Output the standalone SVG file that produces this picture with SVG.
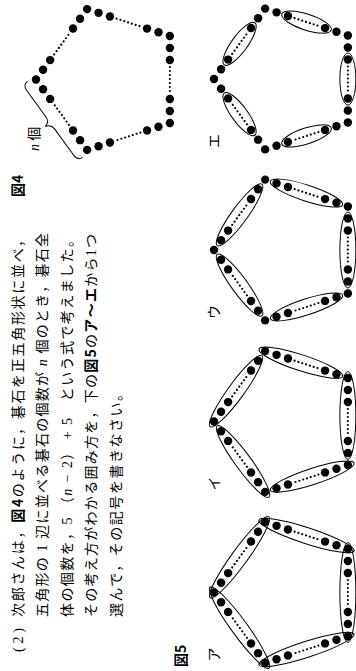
<svg xmlns="http://www.w3.org/2000/svg" xmlns:xlink="http://www.w3.org/1999/xlink" width="356" height="671" viewBox="0 0 356 671">
<style>
  text { font-family: "Noto Sans CJK JP", "Liberation Sans", sans-serif; font-size: 14px; fill: #000; }
  .lat { font-family: "Liberation Serif", "Noto Sans CJK JP", serif; }
  .it { font-family: "Liberation Serif", serif; font-style: italic; }
  .b { font-weight: bold; }
  .stone { fill: #000; }
  .dotted { fill: none; stroke: #000; stroke-width: 2.2; stroke-dasharray: 0 4; stroke-linecap: round; }
  .grp { fill: none; stroke: #000; stroke-width: 1; }
  .brace { fill: none; stroke: #000; stroke-width: 1; }
</style>
<defs>
  <g id="stones">
    <g class="stone">
      <circle cx="0" cy="-74" r="4.2"/>
      <circle cx="9.71" cy="-66.95" r="4.2"/>
      <circle cx="19.42" cy="-59.89" r="4.2"/>
      <circle cx="50.97" cy="-36.97" r="4.2"/>
      <circle cx="60.68" cy="-29.92" r="4.2"/>
      <circle cx="70.38" cy="-22.87" r="4.2"/>
      <circle cx="66.67" cy="-11.46" r="4.2"/>
      <circle cx="62.96" cy="-0.04" r="4.2"/>
      <circle cx="50.91" cy="37.05" r="4.2"/>
      <circle cx="47.2" cy="48.47" r="4.2"/>
      <circle cx="43.5" cy="59.87" r="4.2"/>
      <circle cx="31.5" cy="59.87" r="4.2"/>
      <circle cx="19.5" cy="59.87" r="4.2"/>
      <circle cx="-19.5" cy="59.87" r="4.2"/>
      <circle cx="-31.5" cy="59.87" r="4.2"/>
      <circle cx="-43.5" cy="59.87" r="4.2"/>
      <circle cx="-47.21" cy="48.46" r="4.2"/>
      <circle cx="-50.92" cy="37.04" r="4.2"/>
      <circle cx="-62.97" cy="-0.05" r="4.2"/>
      <circle cx="-66.68" cy="-11.47" r="4.2"/>
      <circle cx="-70.38" cy="-22.87" r="4.2"/>
      <circle cx="-60.67" cy="-29.92" r="4.2"/>
      <circle cx="-50.96" cy="-36.98" r="4.2"/>
      <circle cx="-19.41" cy="-59.9" r="4.2"/>
      <circle cx="-9.7" cy="-66.95" r="4.2"/>
    </g>
    <g class="dotted">
      <line x1="25.08" y1="-55.78" x2="45.31" y2="-41.09"/>
      <line x1="60.8" y1="6.62" x2="53.08" y2="30.39"/>
      <line x1="12.5" y1="59.87" x2="-12.5" y2="59.87"/>
      <line x1="-53.08" y1="30.38" x2="-60.8" y2="6.61"/>
      <line x1="-45.3" y1="-41.09" x2="-25.07" y2="-55.79"/>
    </g>
  </g>
</defs>
<rect width="356" height="671" fill="#fff"/>
<g transform="translate(0,671) rotate(-90)">
  <g id="question">
    <text x="19" y="22.5" class="lat" textLength="24" lengthAdjust="spacing">(2)</text>
    <text x="54" y="22.5" textLength="384" lengthAdjust="spacing">次郎さんは，<tspan class="b">図4</tspan>のように，碁石を正五角形状に並べ，</text>
    <text x="54" y="47" textLength="384" lengthAdjust="spacing">五角形の <tspan class="lat">1</tspan> 辺に並べる碁石の個数が <tspan class="it">n</tspan> 個のとき，碁石全</text>
    <text x="54" y="71.5" textLength="384" lengthAdjust="spacing">体の個数を，<tspan class="lat">5 </tspan>（<tspan class="it">n</tspan><tspan class="lat"> − 2</tspan>）<tspan class="lat"> + 5</tspan>　という式で考えました。</text>
    <text x="54" y="96" textLength="383" lengthAdjust="spacing">その考え方がわかる囲み方を，下の<tspan class="b">図5</tspan>の<tspan class="b">ア〜エ</tspan>から<tspan class="lat">1</tspan>つ</text>
    <text x="54" y="120.5" textLength="230" lengthAdjust="spacing">選んで，その記号を書きなさい。</text>
  </g>
  <g id="fig4">
    <text x="474" y="22.5" class="b">図4</text>
    <use xlink:href="#stones" href="#stones" transform="translate(591.5,110)"/>
    <path class="brace" transform="translate(591.5,110) translate(-35.19,-48.43) rotate(-36)" d="M -47,-8 C -47,-13 -44,-14 -40,-14 L -7,-14 C -3,-14 -1,-16 0,-20 C 1,-16 3,-14 7,-14 L 40,-14 C 44,-14 47,-13 47,-8"/>
    <text x="520" y="39"><tspan class="it">n</tspan> 個</text>
  </g>
  <g id="fig5-title">
    <text x="4" y="186" class="b">図5</text>
  </g>
  <g id="option-a">
    <text x="9.5" y="219">ア</text>
    <g transform="translate(78.5,288)">
      <use xlink:href="#stones" href="#stones"/>
      <g class="grp">
        <ellipse cx="35.19" cy="-48.43" rx="50" ry="8" transform="rotate(36 35.19 -48.43)"/>
        <ellipse cx="56.94" cy="18.5" rx="50" ry="8" transform="rotate(108 56.94 18.5)"/>
        <ellipse cx="0" cy="59.87" rx="50" ry="8"/>
        <ellipse cx="-56.94" cy="18.5" rx="50" ry="8" transform="rotate(72 -56.94 18.5)"/>
        <ellipse cx="-35.19" cy="-48.43" rx="50" ry="8" transform="rotate(-36 -35.19 -48.43)"/>
      </g>
    </g>
  </g>
  <g id="option-i">
    <text x="180.5" y="219">イ</text>
    <g transform="translate(249.5,288)">
      <use xlink:href="#stones" href="#stones"/>
      <g class="grp">
        <ellipse cx="30.34" cy="-51.96" rx="44" ry="8" transform="rotate(36 30.34 -51.96)"/>
        <ellipse cx="58.79" cy="12.8" rx="44" ry="8" transform="rotate(108 58.79 12.8)"/>
        <ellipse cx="6" cy="59.87" rx="44" ry="8"/>
        <ellipse cx="-55.09" cy="24.2" rx="44" ry="8" transform="rotate(72 -55.09 24.2)"/>
        <ellipse cx="-40.04" cy="-44.91" rx="44" ry="8" transform="rotate(-36 -40.04 -44.91)"/>
      </g>
    </g>
  </g>
  <g id="option-u">
    <text x="352" y="219">ウ</text>
    <g transform="translate(421,288)">
      <use xlink:href="#stones" href="#stones"/>
      <g class="grp">
        <ellipse cx="35.19" cy="-48.43" rx="38" ry="8" transform="rotate(36 35.19 -48.43)"/>
        <ellipse cx="56.94" cy="18.5" rx="38" ry="8" transform="rotate(108 56.94 18.5)"/>
        <ellipse cx="0" cy="59.87" rx="38" ry="8"/>
        <ellipse cx="-56.94" cy="18.5" rx="38" ry="8" transform="rotate(72 -56.94 18.5)"/>
        <ellipse cx="-35.19" cy="-48.43" rx="38" ry="8" transform="rotate(-36 -35.19 -48.43)"/>
      </g>
    </g>
  </g>
  <g id="option-e">
    <text x="523" y="219">エ</text>
    <g transform="translate(592,288)">
      <use xlink:href="#stones" href="#stones"/>
      <g class="grp">
        <ellipse cx="35.19" cy="-48.43" rx="26" ry="8" transform="rotate(36 35.19 -48.43)"/>
        <ellipse cx="56.94" cy="18.5" rx="26" ry="8" transform="rotate(108 56.94 18.5)"/>
        <ellipse cx="0" cy="59.87" rx="26" ry="8"/>
        <ellipse cx="-56.94" cy="18.5" rx="26" ry="8" transform="rotate(72 -56.94 18.5)"/>
        <ellipse cx="-35.19" cy="-48.43" rx="26" ry="8" transform="rotate(-36 -35.19 -48.43)"/>
      </g>
    </g>
  </g>
</g>
</svg>
